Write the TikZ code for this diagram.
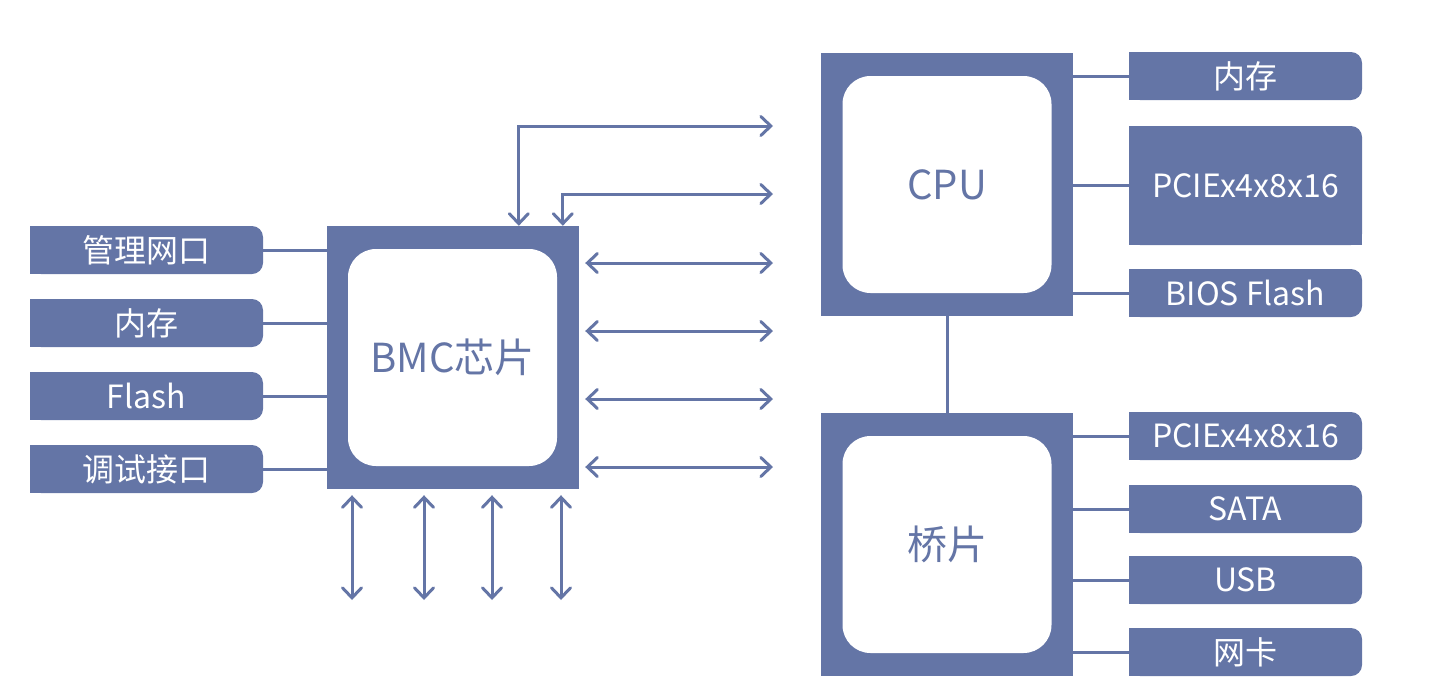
\documentclass[tikz,border=0pt]{standalone}
\usepackage{fontspec}
\setmainfont{Noto Sans CJK SC}
\usetikzlibrary{arrows.meta,backgrounds}
\definecolor{chipblue}{RGB}{100,117,166}
\tikzset{
  lab/.style={fill=chipblue, text=white, rounded corners=11pt, minimum width=233pt, minimum height=48pt, inner sep=0pt, font=\fontsize{32}{34}\selectfont},
  outerchip/.style={fill=chipblue, minimum width=252pt, minimum height=263pt, inner sep=0pt},
  innerchip/.style={fill=white, rounded corners=28pt, minimum width=209pt, minimum height=217pt, inner sep=0pt, text=chipblue, font=\fontsize{40}{44}\selectfont},
  conn/.style={draw=chipblue, line width=3pt},
  arr/.style={draw=chipblue, line width=3pt, line cap=round, {Straight Barb[length=10pt,width=19pt,line cap=round]}-{Straight Barb[length=10pt,width=19pt,line cap=round]}},
}
\begin{document}
\begin{tikzpicture}[x=1pt,y=-1pt]
\useasboundingbox (0,0) rectangle (1436,697);
% chips
\node[outerchip] (bmc) at (453,357.5) {};
\node[innerchip] (bmcin) at (452.5,357.5) {BMC芯片};
\node[outerchip] (cpu) at (947,184.5) {};
\node[innerchip] (cpuin) at (947,184.5) {CPU};
\node[outerchip] (br) at (947,544.5) {};
\node[innerchip] (brin) at (947,544.5) {桥片};
% left labels
\node[lab] (l1) at (146.5,250) {管理网口};
\node[lab] (l2) at (146.5,323) {内存};
\node[lab] (l3) at (146.5,396) {Flash};
\node[lab] (l4) at (146.5,469) {调试接口};
% right labels
\node[lab] (r1) at (1245.5,76) {内存};
\node[lab, minimum height=119pt] (r2) at (1245.5,185.5) {PCIEx4x8x16};
\node[lab] (r3) at (1245.5,293) {BIOS Flash};
\node[lab] (r4) at (1245.5,436) {PCIEx4x8x16};
\node[lab] (r5) at (1245.5,509) {SATA};
\node[lab] (r6) at (1245.5,580) {USB};
\node[lab] (r7) at (1245.5,652) {网卡};
\begin{scope}[on background layer]
  \foreach \n in {l1,l2,l3,l4,r1,r3,r4,r5,r6,r7}
    \fill[chipblue] (\n.north west) rectangle (\n.south);
  \fill[chipblue] (r2.north west) rectangle (r2.south);
  \fill[chipblue] (r2.west) rectangle (r2.south east);
\end{scope}
% connectors
\foreach \n in {l1,l2,l3,l4} \draw[conn] (\n.east) -- (\n.east -| bmc.west);
\draw[conn] (r1.west) -- (r1.west -| cpu.east);
\draw[conn] (r2.west) -- (r2.west -| cpu.east);
\draw[conn] (r3.west) -- (r3.west -| cpu.east);
\draw[conn] (r4.west) -- (r4.west -| br.east);
\draw[conn] (r5.west) -- (r5.west -| br.east);
\draw[conn] (r6.west) -- (r6.west -| br.east);
\draw[conn] (r7.west) -- (r7.west -| br.east);
\draw[conn] (cpu.south) -- (br.north);
% BMC arrows
\coordinate (t1) at (773,126);
\coordinate (t2) at (773,194);
\draw[arr] ([xshift=192pt]bmc.north west) |- (t1);
\draw[arr] ([xshift=236pt]bmc.north west) |- (t2);
\foreach \y [count=\i] in {263,331,399,467} {
  \coordinate (e\i) at (773,\y);
  \draw[arr] ([xshift=6pt]e\i -| bmc.east) -- (e\i);
}
\foreach \x [count=\i] in {352,424,492,561} {
  \coordinate (b\i) at (\x,600);
  \draw[arr] ([yshift=-6pt]b\i |- bmc.south) -- (b\i);
}
\end{tikzpicture}
\end{document}
